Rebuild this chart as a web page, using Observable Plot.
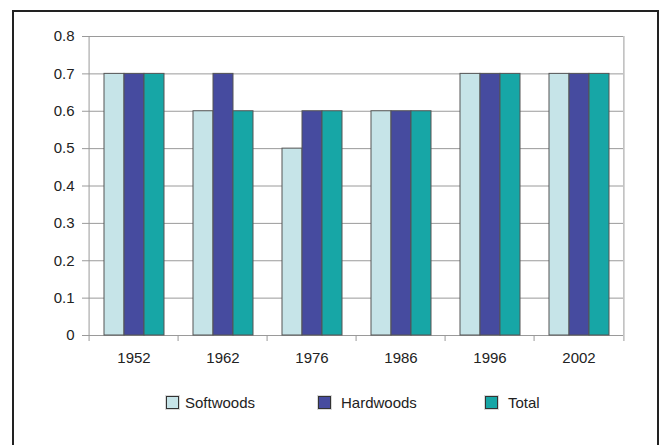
<!DOCTYPE html>
<html>
<head>
<meta charset="utf-8">
<script src="https://cdn.jsdelivr.net/npm/d3@7"></script>
<script src="https://cdn.jsdelivr.net/npm/@observablehq/plot@0.6"></script>
<style>
  html, body { margin: 0; padding: 0; background: #fff; overflow: hidden; }
  body { width: 661px; height: 445px; position: relative; font-family: "Liberation Sans", Arial, sans-serif; }
  #frame { position: absolute; left: 12px; top: 10px; width: 643px; height: 500px; border: 2px solid #222; box-sizing: content-box; }
  #chart { position: absolute; left: 0; top: 0; }
  .legend { position: absolute; top: 393px; left: 0; width: 661px; height: 18px; font-size: 15px; color: #222; }
  .item { position: absolute; display: flex; align-items: center; height: 18px; }
  .sw { width: 11px; height: 11px; border: 1.5px solid #333; box-shadow: 0 0 0 1px rgba(0,0,0,0.15); }
</style>
</head>
<body>
<div id="frame"></div>
<div id="chart"></div>
<div class="legend" id="legend"></div>
<script>
const years = ["1952", "1962", "1976", "1986", "1996", "2002"];
const series = ["Softwoods", "Hardwoods", "Total"];
const softwoods = [0.7, 0.6, 0.5, 0.6, 0.7, 0.7];
const hardwoods = [0.7, 0.7, 0.6, 0.6, 0.7, 0.7];
const total = [0.7, 0.6, 0.6, 0.6, 0.7, 0.7];
const colors = ["#c6e4e8", "#464b9f", "#17a6a6"];
const yTicks = [0, 0.1, 0.2, 0.3, 0.4, 0.5, 0.6, 0.7, 0.8];

const rows = [];
[softwoods, hardwoods, total].forEach((vals, s) => {
  years.forEach((yr, i) => rows.push({year: yr, series: series[s], value: vals[i]}));
});

const W = 661, H = 370, mL = 86, mR = 36, mT = 36, mB = 35;
const facetW = (W - mL - mR) / years.length;
const plotH = H - mT - mB;
const grid = "#9a9a9a";

const chart = Plot.plot({
  width: W, height: H,
  marginLeft: mL, marginRight: mR, marginTop: mT, marginBottom: mB,
  style: {fontFamily: "'Liberation Sans', Arial, sans-serif", fontSize: "15px", color: "#222", background: "transparent"},
  fx: {domain: years, padding: 0, label: null},
  x: {domain: series, paddingInner: 0, paddingOuter: 0.71, axis: null},
  y: {domain: [0, 0.8], axis: null},
  color: {domain: series, range: colors},
  marks: [
    Plot.ruleY(yTicks, {stroke: grid, strokeWidth: 1}),
    Plot.barY(rows, {fx: "year", x: "series", y: "value", fill: "series", stroke: "#555", strokeWidth: 1}),
    Plot.ruleX(years.slice(1), {fx: d => d, x: null, dx: -facetW / 2, insetTop: plotH, insetBottom: -6, stroke: grid}),
    Plot.ruleX([years[0]], {fx: d => d, x: null, dx: -facetW / 2, insetBottom: -6, stroke: grid}),
    Plot.ruleX([years[years.length - 1]], {fx: d => d, x: null, dx: facetW / 2, insetBottom: -6, stroke: grid}),
    Plot.axisY({ticks: yTicks, tickFormat: d => String(d), tickSize: 7, tickPadding: 8, stroke: grid, label: null}),
    Plot.axisFx({anchor: "bottom", tickSize: 0, tickPadding: 17, label: null})
  ]
});
document.getElementById("chart").appendChild(chart);

const legendPos = [166, 318, 485];
const legendGap = [6, 10, 10];
const legend = document.getElementById("legend");
series.forEach((s, i) => {
  const item = document.createElement("div");
  item.className = "item";
  item.style.left = legendPos[i] + "px";
  const sw = document.createElement("div");
  sw.className = "sw";
  sw.style.background = colors[i];
  sw.style.marginRight = legendGap[i] + "px";
  const t = document.createElement("span");
  t.textContent = s;
  item.appendChild(sw);
  item.appendChild(t);
  legend.appendChild(item);
});
</script>
</body>
</html>
